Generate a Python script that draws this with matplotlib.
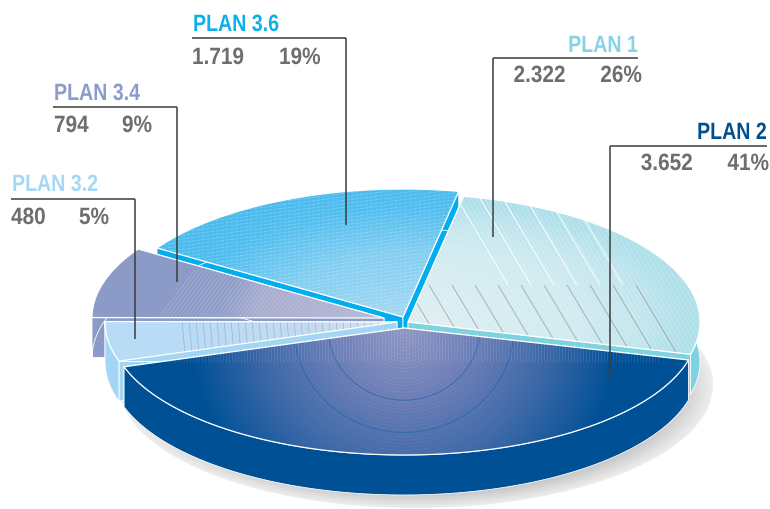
#!/usr/bin/env python3
"""
Exploded 3D pie of plan shares, drawn in pixel coordinates
"""
import numpy as np
import matplotlib
matplotlib.use('Agg')
import matplotlib.pyplot as plt
import matplotlib.patheffects as pe
from matplotlib.collections import LineCollection
from matplotlib.path import Path
from matplotlib.patches import PathPatch, Polygon
from matplotlib.transforms import Affine2D

plt.rcParams['font.family'] = ['Liberation Sans', 'DejaVu Sans']

# Data, clockwise from the top of the pie
plans = ['PLAN 1', 'PLAN 2', 'PLAN 3.2', 'PLAN 3.4', 'PLAN 3.6']
values = [2322, 3652, 480, 794, 1719]
percents = [26, 41, 5, 9, 19]
title_colors = ['#86d3e3', '#00508f', '#a5d8f5', '#8a9cc9', '#0db0ea']

# Layout per plan, in pixels
centers = {'PLAN 1': (408, 322), 'PLAN 2': (404, 328), 'PLAN 3.2': (397, 322),
           'PLAN 3.4': (384, 318), 'PLAN 3.6': (403, 317)}
wall_colors = {'PLAN 1': '#7fd2e0', 'PLAN 2': '#005096', 'PLAN 3.2': '#a3d6f5',
               'PLAN 3.4': '#8b9ac6', 'PLAN 3.6': '#00aeef'}
radii = {'PLAN 2': (294, 127)}
default_radii = (292, 128)
depth = 40
start_angle = 79

# label: title xy, line x range, line y, leader end, value xy, percent xy, align, leader x
labels = {
    'PLAN 1': ((638, 52), (493, 638), 58, 237, (566, 82), (642, 82), 'right', 493),
    'PLAN 2': ((767, 139), (610, 767), 146, 379, (693, 170), (769, 170), 'right', 610),
    'PLAN 3.2': ((12, 191), (11, 135), 199, 339, (11, 224), (79, 224), 'left', 135),
    'PLAN 3.4': ((54, 100), (53, 177), 107, 282, (54, 132), (122, 132), 'left', 177),
    'PLAN 3.6': ((193, 31), (192, 346), 38, 225, (192, 64), (279, 64), 'left', 346),
}

W, H = 770, 509
fig = plt.figure(figsize=(W / 100, H / 100), dpi=100)
ax = fig.add_axes([0, 0, 1, 1])
ax.set_xlim(0, W)
ax.set_ylim(H, 0)
ax.axis('off')

yy, xx = np.mgrid[0:H, 0:W] + 0.5


class Narrow(pe.AbstractPathEffect):
    # squeeze the glyphs around the anchor, no condensed font is installed
    def __init__(self, x, sx):
        super().__init__()
        self.x = x
        self.sx = sx

    def draw_path(self, renderer, gc, tpath, affine, rgbFace=None):
        squeeze = Affine2D().translate(-self.x, 0).scale(self.sx, 1).translate(self.x, 0)
        renderer.draw_path(gc, tpath, affine + squeeze, rgbFace)


def hex_rgb(c):
    return np.array(matplotlib.colors.to_rgb(c))


def radial_fill(clip, cx, cy, rx, ry, stops, zorder):
    r = np.hypot((xx - cx) / rx, (yy - cy) / ry)
    pos = [s[0] for s in stops]
    cols = np.array([hex_rgb(s[1]) for s in stops])
    img = np.dstack([np.interp(r, pos, cols[:, i]) for i in range(3)])
    im = ax.imshow(img, extent=(0, W, H, 0), aspect='auto', zorder=zorder,
                   interpolation='bilinear')
    patch = PathPatch(clip, transform=ax.transData, fc='none', ec='none')
    ax.add_patch(patch)
    im.set_clip_path(patch)


def arc(cx, cy, a, b, t0, t1, dy=0):
    t = np.radians(np.linspace(t0, t1, 90))
    return np.column_stack([cx + a * np.cos(t), cy - b * np.sin(t) + dy])


def clipped_lines(segs, clip, color, lw, alpha, zorder, ls='-'):
    lc = LineCollection(segs, colors=color, linewidths=lw, alpha=alpha,
                        zorder=zorder, linestyles=ls)
    ax.add_collection(lc)
    patch = PathPatch(clip, transform=ax.transData, fc='none', ec='none')
    ax.add_patch(patch)
    lc.set_clip_path(patch)


# Slice angles from the percentages
angles = {}
a0 = start_angle
for plan, p in zip(plans, percents):
    a1 = a0 - p * 3.6
    angles[plan] = (a0, a1)
    a0 = a1

# Shadow under the pie
t = np.radians(np.linspace(0, 360, 200))
shadow = np.column_stack([416 + 297 * np.cos(t), 385 + 123 * np.sin(t)])
radial_fill(Path(shadow), 416, 385, 297, 123,
            [(0, '#c4c4c4'), (0.89, '#c8c8c8'), (0.97, '#e4e4e4'), (1.0, '#eeeeee')], 1)

z = 2
for plan in ['PLAN 3.6', 'PLAN 1', 'PLAN 3.4', 'PLAN 3.2', 'PLAN 2']:
    cx, cy = centers[plan]
    a, b = radii.get(plan, default_radii)
    t0, t1 = angles[plan]
    edge = arc(cx, cy, a, b, t0, t1)
    low = edge + [0, depth]
    apex = np.array([[cx, cy]])
    apex_low = apex + [0, depth]

    # walls: two straight faces and the outer curve
    col = wall_colors[plan]
    for face in (np.vstack([apex, edge[:1], low[:1], apex_low]),
                 np.vstack([apex, edge[-1:], low[-1:], apex_low]),
                 np.vstack([edge, low[::-1]])):
        ax.add_patch(Polygon(face, closed=True, fc=col, ec='white', lw=0.6, zorder=z))

    path = Path(np.vstack([apex, edge, apex]))

    if plan == 'PLAN 2':
        radial_fill(path, cx, cy, 215, 215,
                    [(0, '#8d96c3'), (0.3, '#7080b8'), (0.65, '#3e69a8'), (1.0, '#005096')], z + 1)
        ring_r = np.arange(6, 235, 3.5)
        rings = [arc(cx, cy, r, r * 0.98, 0, 360) for r in ring_r]
        ring_cols = [(1, 1, 1, 0.13 * max(0.0, 1 - r / 235)) for r in ring_r]
        clipped_lines(rings, path, ring_cols, 0.4, None, z + 2)
        rings = [arc(cx, cy, r, r * 0.95, 0, 360) for r in (76, 110)]
        clipped_lines(rings, path, '#1b67ad', 0.7, 0.7, z + 2)
        stripes = [[(x, 325), (x, 362)] for x in np.arange(130, 660, 3.0)]
        clipped_lines(stripes, path, '#dfe8f5', 0.5, 0.17, z + 2)
    elif plan == 'PLAN 1':
        radial_fill(path, cx, cy, 292, 128,
                    [(0, '#dfeff3'), (0.6, '#d0ebf1'), (0.8, '#c2e6ee'), (0.95, '#b0e0eb'), (1.0, '#aee0ea')],
                    z + 1)
        fine = [[(x, 180), (x + 100, 352)] for x in np.arange(330, 640, 4.5)]
        clipped_lines(fine, path, '#ffffff', 0.5, 0.3, z + 2)
        strong = [[(x, 190), (x + 56, 285)] for x in np.arange(452, 590, 23)]
        clipped_lines(strong, path, '#ffffff', 0.8, 0.85, z + 2)
        grey = [[(x + 56, 285), (x + 96, 352)] for x in np.arange(350, 600, 23)]
        clipped_lines(grey, path, '#8f9396', 0.7, 0.65, z + 2)
    elif plan == 'PLAN 3.6':
        radial_fill(path, cx, cy, 250, 128,
                    [(0, '#a6d9f3'), (0.5, '#84cff2'), (0.85, '#53bff0'), (1.0, '#4cbcee')], z + 1)
        dashes = [[(100, y + 24), (470, y - 24)] for y in np.arange(180, 370, 3.5)]
        clipped_lines(dashes, path, '#ffffff', 0.5, 0.3, z + 2, ls=(0, (5, 2)))
    elif plan == 'PLAN 3.4':
        radial_fill(path, cx, cy, 230, 128,
                    [(0, '#b5b8d6'), (0.55, '#a9aed1'), (0.72, '#8f9dc8'), (1.0, '#8b9ac6')], z + 1)
        fine = [[(x, 322), (x + 40, 270)] for x in np.arange(155, 385, 4)]
        clipped_lines(fine, path, '#d9dcec', 0.5, 0.35, z + 2)
    elif plan == 'PLAN 3.2':
        radial_fill(path, 105, 335, 300, 300,
                    [(0, '#b9dcf6'), (0.25, '#b9dcf6'), (0.7, '#c5dbef'), (1.0, '#dfe6f0')], z + 1)
        fine = [[(x, 320), (x + 4, 365)] for x in np.arange(182, 395, 7)]
        clipped_lines(fine, path, '#7e93b5', 0.5, 0.55, z + 2)

    ax.add_patch(PathPatch(path, fc='none', ec='white', lw=0.9, zorder=z + 3))
    z += 4


def squeezed_text(x, y, s, color, align, sx):
    anchor = ax.transData.transform((x, y))[0]
    ax.text(x, y, s, color=color, fontsize=17, fontweight='bold', ha=align, va='baseline',
            zorder=51, path_effects=[Narrow(anchor, sx)])


# Labels and leader lines
for plan, v, p, color in zip(plans, values, percents, title_colors):
    title_xy, (x0, x1), ly, lend, val_xy, pct_xy, align, lx = labels[plan]
    ax.plot([x0, x1], [ly, ly], color='#3c3c3c', lw=1.1, zorder=50, solid_capstyle='butt')
    ax.plot([lx, lx], [ly, lend], color='#3c3c3c', lw=1.1, zorder=50, solid_capstyle='butt')
    squeezed_text(title_xy[0], title_xy[1], plan, color, align, 0.83)
    squeezed_text(val_xy[0], val_xy[1], f'{v:,}'.replace(',', '.'), '#6d6e70', align, 0.88)
    squeezed_text(pct_xy[0], pct_xy[1], f'{p}%', '#6d6e70', align, 0.88)

fig.savefig('out.png', dpi=100, facecolor='white')
